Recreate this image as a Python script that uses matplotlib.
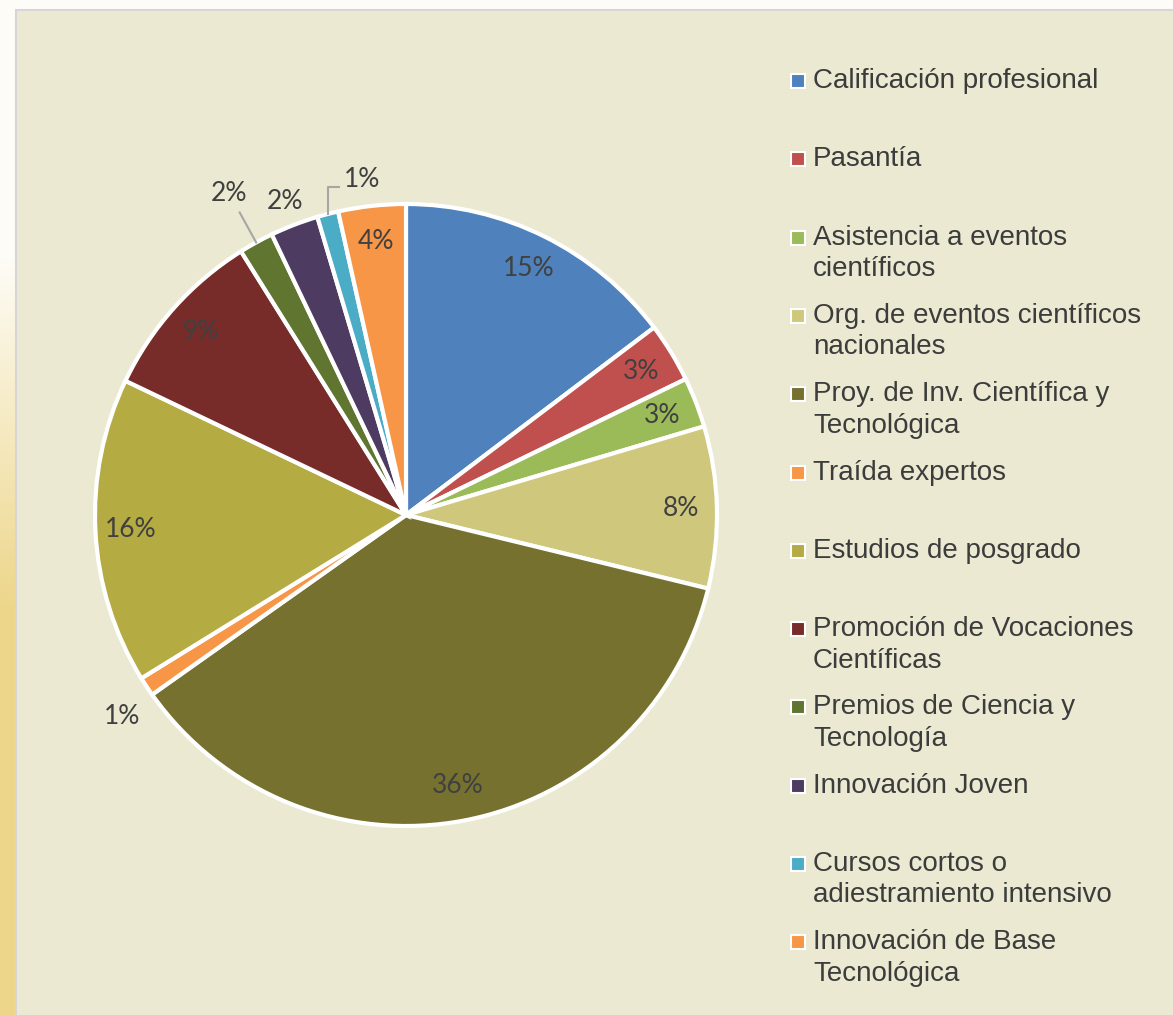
import numpy as np
import matplotlib
matplotlib.use("Agg")
import matplotlib.pyplot as plt
from matplotlib.patches import Rectangle

categories = ["Calificación profesional", "Pasantía", "Asistencia a eventos\ncientíficos",
              "Org. de eventos científicos\nnacionales", "Proy. de Inv. Científica y\nTecnológica",
              "Traída expertos", "Estudios de posgrado", "Promoción de Vocaciones\nCientíficas",
              "Premios de Ciencia y\nTecnología", "Innovación Joven",
              "Cursos cortos o\nadiestramiento intensivo", "Innovación de Base\nTecnológica"]
values = [14.7, 3.1, 2.6, 8.4, 36.4, 1.0, 15.9, 9.0, 1.8, 2.5, 1.1, 3.5]
pct_labels = ["15%", "3%", "3%", "8%", "36%", "1%", "16%", "9%", "2%", "2%", "1%", "4%"]
colors = ["#4F81BD", "#C0504D", "#9BBB59", "#CFC87C", "#76712E", "#F79646",
          "#B5AB43", "#772C2A", "#5F7530", "#4D3B62", "#4BACC6", "#F79646"]

W, H = 1173, 1015
fig = plt.figure(figsize=(W / 100, H / 100), dpi=100)
ax = fig.add_axes([0, 0, 1, 1])
ax.axis("off")

# background: whitish top, golden strip on the left
grad = np.linspace(0, 1, 256)
c_top = np.array([0.995, 0.99, 0.97])
c_bot = np.array([0.93, 0.84, 0.54])
t = np.clip((grad - 0.25) / 0.35, 0, 1)[:, None]
img = (c_top * (1 - t) + c_bot * t)[:, None, :]
ax.add_patch(Rectangle((0, 0), W, H, facecolor="#FDFCF8", edgecolor="none", zorder=0))
ax.imshow(img, extent=[0, 16, 0, H], aspect="auto", origin="upper", zorder=0.5)

# chart panel
ax.add_patch(Rectangle((16, -5), W, H - 9.5 + 5, facecolor="#EBE9D1",
                       edgecolor="#D6D6D6", linewidth=1.5, zorder=1))

cx, cy, R = 406, 500, 311
wedges, texts = ax.pie(values, colors=colors, startangle=90, counterclock=False,
                       center=(cx, cy), radius=R, labels=pct_labels, labeldistance=0.885,
                       wedgeprops=dict(edgecolor="white", linewidth=3),
                       textprops=dict(fontsize=19, color="#404040", family=["Lato", "DejaVu Sans"]),
                       frame=True)
ax.set_xlim(0, W)
ax.set_ylim(0, H)
ax.set_aspect("auto")
ax.axis("off")
for w in wedges:
    w.set_zorder(2)

def polar(w, r):
    th = np.deg2rad((w.theta1 + w.theta2) / 2)
    return cx + r * np.cos(th), cy + r * np.sin(th)

for tx in texts:
    tx.set_ha("center")
    tx.set_va("center")
    tx.set_zorder(3)

# outside labels
tp = polar(wedges[5], 1.12 * R)
texts[5].set_position((tp[0] + 7, tp[1] - 9))
texts[9].set_position(polar(wedges[9], 1.08 * R))
texts[8].set_position(polar(wedges[8], 1.18 * R))
p0 = polar(wedges[8], 1.0 * R)
p1 = polar(wedges[8], 1.11 * R)
ax.plot([p0[0], p1[0]], [p0[1], p1[1]], color="#A6A6A6", lw=1.5, zorder=3)
e = polar(wedges[10], 1.0 * R)
ax.plot([e[0], e[0], e[0] + 11], [e[1], e[1] + 27, e[1] + 27], color="#A6A6A6", lw=1.5, zorder=3)
texts[10].set_position((e[0] + 34, e[1] + 35))

# legend
y0, step, lsp = 934, 78.3, 31.5
for i, (lab, col) in enumerate(zip(categories, colors)):
    y = y0 - i * step
    ax.add_patch(Rectangle((791, y - 7), 14, 14, facecolor=col, edgecolor="white",
                           linewidth=1.5, zorder=3))
    for j, line in enumerate(lab.split("\n")):
        ax.text(813, y - j * lsp, line, fontsize=20, color="#3C3C3C",
                family=["Liberation Sans", "DejaVu Sans"], ha="left", va="center", zorder=3)

fig.savefig("out.png", dpi=100)
